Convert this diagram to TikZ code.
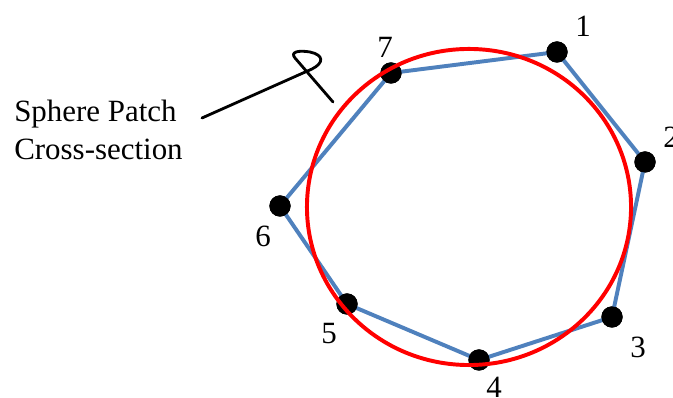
\documentclass[tikz,border=0pt]{standalone}
\usepackage{fontspec}
\setmainfont{Liberation Serif}
\usetikzlibrary{positioning}
\definecolor{polyblue}{RGB}{79,129,189}

\begin{document}
\begin{tikzpicture}[
      x=0.025cm, y=-0.025cm,
      dot/.style={circle, fill=black, inner sep=0pt, minimum size=0.53cm},
      num/.style={font=\fontsize{22}{26}\selectfont, inner sep=0pt},
      txt/.style={font=\fontsize{22}{26}\selectfont, inner sep=0pt, anchor=base west}
    ]
    \useasboundingbox (0,0) rectangle (673,398);

    % Control points
    \node[dot] (p1) at (557, 52) {};
    \node[dot] (p2) at (645,162) {};
    \node[dot] (p3) at (612,317) {};
    \node[dot] (p4) at (479,360) {};
    \node[dot] (p5) at (347,304) {};
    \node[dot] (p6) at (280,206) {};
    \node[dot] (p7) at (391, 73) {};

    % Numbers
    \node[num] (n1) at (583, 26) {1};
    \node[num] (n2) at (671,137) {2};
    \node[num] (n3) at (638,347) {3};
    \node[num] (n4) at (494,387) {4};
    \node[num] (n5) at (329,334) {5};
    \node[num] (n6) at (263,236) {6};
    \node[num] (n7) at (385, 47) {7};

    % Control polygon
    \draw[polyblue, line width=2.8pt, line join=round]
    (p1.center) -- (p2.center) -- (p3.center) -- (p4.center)
    -- (p5.center) -- (p6.center) -- (p7.center) -- cycle;
    \foreach \i in {1,...,7} {
      \fill (p\i) circle (0.265cm);
    }

    % Sphere patch circle
    \coordinate (ctr) at (469,207);
    \draw[red, line width=2.8pt] (ctr) ellipse (4.05cm and 3.95cm);

    % Label and leader
    \node[txt] (title1) at (14,122) {Sphere Patch};
    \node[txt] (title2) at (14,160) {Cross-section};
    \coordinate (lead) at (202,118);
    \coordinate (tip) at (333,102);
    \draw[black, line width=2pt, line cap=round]
    (lead) -- (312,69) .. controls (324,63) and (324,55) .. (310,52)
    .. controls (298,50) and (290,52) .. (295,58) -- (tip);

  \end{tikzpicture}
\end{document}
